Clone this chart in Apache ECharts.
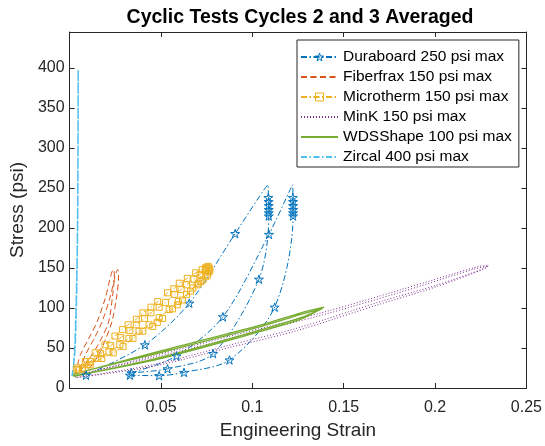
<!DOCTYPE html>
<html>
<head>
<meta charset="utf-8">
<script src="https://cdn.jsdelivr.net/npm/echarts@6/dist/echarts.min.js"></script>
<style>
  html, body { margin: 0; padding: 0; background: #fff; }
  #main { width: 545px; height: 446px; }
</style>
</head>
<body>
<div id="main"></div>
<script>
// legend names, in plot order
const names = [
  'Duraboard 250 psi max',
  'Fiberfrax 150 psi max',
  'Microtherm 150 psi max',
  'MinK 150 psi max',
  'WDSShape 100 psi max',
  'Zircal 400 psi max'
];

// [strain, stress psi] - loops (two cycles each)
const duraboard = [
  [0.009, 16], [0.0412, 54], [0.0655, 106], [0.0906, 193], [0.1086, 254],
  [0.1088, 238], [0.1089, 233], [0.109, 228], [0.109, 223], [0.109, 219], [0.109, 215],
  [0.1036, 136], [0.0785, 43], [0.0536, 24], [0.0338, 19],
  [0.0585, 40], [0.0839, 89], [0.1091, 192], [0.1221, 254],
  [0.1222, 238], [0.1223, 233], [0.1223, 228], [0.1223, 223], [0.1223, 219], [0.1223, 215],
  [0.1122, 101], [0.0875, 35], [0.0626, 19.5], [0.049, 15.4], [0.033, 16]
];

const fiberfrax = [
  [0.003, 17], [0.0045, 30], [0.006, 42], [0.0105, 62], [0.0151, 83], [0.0195, 112], [0.024, 148],
  [0.0245, 140], [0.0235, 115], [0.0214, 83], [0.017, 60], [0.0124, 42], [0.008, 28], [0.005, 18],
  [0.0088, 42], [0.0135, 62], [0.0178, 83], [0.022, 112], [0.0264, 148],
  [0.0268, 140], [0.0258, 115], [0.0232, 83], [0.0195, 60], [0.016, 42], [0.011, 25], [0.006, 16]
];

const microtherm = [
  [0.004, 25], [0.0086, 33], [0.014, 44], [0.0194, 54], [0.0248, 65], [0.029, 73], [0.032, 79],
  [0.0365, 86], [0.0401, 94], [0.0445, 101], [0.0482, 108], [0.0536, 119], [0.057, 124], [0.06, 131],
  [0.0644, 137], [0.069, 144], [0.0726, 148], [0.0743, 150], [0.075, 151], [0.0758, 152], [0.0764, 150],
  [0.0762, 145], [0.0745, 139], [0.0718, 133], [0.0698, 129], [0.0662, 121], [0.0617, 110], [0.059, 104],
  [0.0563, 99], [0.0509, 87], [0.048, 82], [0.0455, 77], [0.0401, 71], [0.0347, 62], [0.0293, 52],
  [0.0239, 44], [0.0176, 37], [0.0113, 29], [0.005, 23],
  [0.007, 25], [0.0115, 33], [0.017, 43], [0.0225, 53], [0.028, 63], [0.033, 72], [0.0365, 79],
  [0.041, 87], [0.0445, 94], [0.049, 101], [0.0525, 107], [0.0575, 117], [0.061, 123], [0.064, 129],
  [0.068, 136], [0.0715, 142], [0.0745, 147], [0.0762, 149], [0.0768, 147],
  [0.0755, 141], [0.073, 135], [0.0705, 131], [0.0675, 125], [0.064, 117], [0.0595, 108], [0.0545, 98],
  [0.049, 88], [0.0435, 79], [0.038, 71], [0.0325, 62], [0.0275, 54], [0.0215, 45], [0.0155, 37],
  [0.0095, 29], [0.004, 23]
];

const mink = [
  [0.003, 15], [0.0455, 40], [0.09, 66], [0.141, 96], [0.18, 122], [0.2239, 152], [0.2293, 153],
  [0.2275, 150], [0.2, 128], [0.17, 108], [0.1248, 75], [0.09, 55], [0.0455, 29], [0.003, 13],
  [0.004, 16], [0.0455, 38], [0.09, 63], [0.141, 93], [0.18, 119], [0.222, 149], [0.2285, 152],
  [0.226, 148], [0.2, 126], [0.17, 105], [0.1248, 72], [0.09, 52], [0.0455, 27], [0.004, 13]
];

const wdsshape = [
  [0.002, 17], [0.0509, 47], [0.105, 79], [0.1266, 94], [0.1392, 101],
  [0.1266, 86], [0.105, 71], [0.0509, 37.5], [0.002, 15],
  [0.003, 18], [0.0509, 45], [0.105, 77], [0.1266, 92], [0.138, 99],
  [0.1266, 88], [0.105, 73], [0.0509, 39], [0.003, 15]
];

const zircal = [
  [0.0013, 15], [0.002, 25], [0.0028, 50], [0.0035, 100], [0.004, 150], [0.0043, 200],
  [0.0046, 300], [0.0047, 398], [0.0046, 300], [0.0044, 200], [0.0041, 150], [0.0037, 100],
  [0.003, 50], [0.0021, 25], [0.0013, 15]
];

const xTicks = [0, 0.05, 0.1, 0.15, 0.2, 0.25];
const yTicks = [0, 50, 100, 150, 200, 250, 300, 350, 400];

const FONT = '"Liberation Sans", Arial, Helvetica, sans-serif';
const AXIS = '#262626';
const BLUE = '#0072BD';
const YELLOW = '#EDB120';
const STAR = 'path://M100,0 L122.45,69.1 L195.1,69.1 L136.33,111.8 L158.78,180.9 L100,138.2 L41.22,180.9 L63.67,111.8 L4.9,69.1 L77.55,69.1 Z';
const DASHDOT = [6, 2.5, 1.5, 2.5];
const HOLLOW = 'rgba(255,255,255,0)';

function boxAxis(pos, isX) {
  return {
    type: 'value',
    position: pos,
    min: 0,
    max: isX ? 0.25 : 445,
    interval: isX ? 0.05 : 50,
    axisLine: { show: true, onZero: false, lineStyle: { color: AXIS, width: 1 } },
    axisTick: { show: true, inside: true, length: 5, lineStyle: { color: AXIS } },
    axisLabel: { show: false },
    splitLine: { show: false }
  };
}

const xMain = Object.assign(boxAxis('bottom', true), {
  name: 'Engineering Strain',
  nameLocation: 'middle',
  nameGap: 33,
  nameTextStyle: { fontSize: 19, color: AXIS, fontFamily: FONT },
  axisLabel: {
    show: true, fontSize: 16, color: AXIS, fontFamily: FONT, margin: 12,
    formatter: v => (xTicks.indexOf(+v.toFixed(3)) > 0 ? String(+v.toFixed(2)) : '')
  }
});

const yMain = Object.assign(boxAxis('left', false), {
  name: 'Stress (psi)',
  nameLocation: 'middle',
  nameGap: 33,
  nameTextStyle: { fontSize: 19, color: AXIS, fontFamily: FONT },
  axisLabel: {
    show: true, fontSize: 16, color: AXIS, fontFamily: FONT, margin: 5,
    formatter: v => (yTicks.indexOf(v) >= 0 ? String(v) : '')
  }
});

function lineSeries(name, data, color, type, width) {
  return {
    name: name,
    type: 'line',
    data: data,
    xAxisIndex: 0,
    yAxisIndex: 0,
    symbol: 'none',
    smooth: 0.3,
    lineStyle: { color: color, width: width, type: type },
    itemStyle: { color: color }
  };
}

// stars everywhere except at the two peaks
const dura = lineSeries(names[0], duraboard.map(p => (p[1] > 250 ? { value: p, symbol: 'none' } : p)),
  BLUE, DASHDOT, 1);
dura.symbol = STAR;
dura.symbolSize = 9;
dura.symbolKeepAspect = true;
dura.itemStyle = { color: HOLLOW, borderColor: BLUE, borderWidth: 1 };

const micro = lineSeries(names[2], microtherm, YELLOW, DASHDOT, 1);
micro.symbol = 'rect';
micro.symbolSize = 6;
micro.itemStyle = { color: HOLLOW, borderColor: YELLOW, borderWidth: 1 };

// legend: hollow markers for Duraboard / Microtherm, plain lines for the rest
const legendData = names.map((n, i) => {
  if (i === 0) return { name: n, itemStyle: { color: HOLLOW, borderColor: BLUE, borderWidth: 1 } };
  if (i === 2) return { name: n, itemStyle: { color: HOLLOW, borderColor: YELLOW, borderWidth: 1 } };
  return { name: n, itemStyle: { color: 'rgba(0,0,0,0)', borderWidth: 0, opacity: 0 } };
});

const option = {
  animation: false,
  backgroundColor: '#fff',
  title: {
    text: 'Cyclic Tests Cycles 2 and 3 Averaged',
    left: 295,
    top: 3,
    textAlign: 'center',
    textStyle: { fontSize: 19.5, fontWeight: 'bold', color: '#000', fontFamily: FONT }
  },
  grid: { left: 66, right: 17, top: 32, bottom: 58, containLabel: false },
  legend: {
    orient: 'vertical',
    left: 297,
    top: 40,
    backgroundColor: '#fff',
    borderColor: AXIS,
    borderWidth: 1,
    borderRadius: 0,
    padding: [9, 7, 2, 3],
    itemWidth: 37,
    itemHeight: 10,
    itemGap: 4,
    textStyle: { fontSize: 15.5, lineHeight: 16, color: '#000', fontFamily: FONT },
    data: legendData
  },
  xAxis: [xMain, boxAxis('top', true)],
  yAxis: [yMain, boxAxis('right', false)],
  series: [
    dura,
    lineSeries(names[1], fiberfrax, '#D95319', [6, 3.5], 1),
    micro,
    lineSeries(names[3], mink, '#7E2F8E', [1, 2], 1),
    lineSeries(names[4], wdsshape, '#77AC30', 'solid', 1.3),
    lineSeries(names[5], zircal, '#4DBEEE', DASHDOT, 1.5)
  ]
};

const chart = echarts.init(document.getElementById('main'));
chart.setOption(option);
</script>
</body>
</html>
